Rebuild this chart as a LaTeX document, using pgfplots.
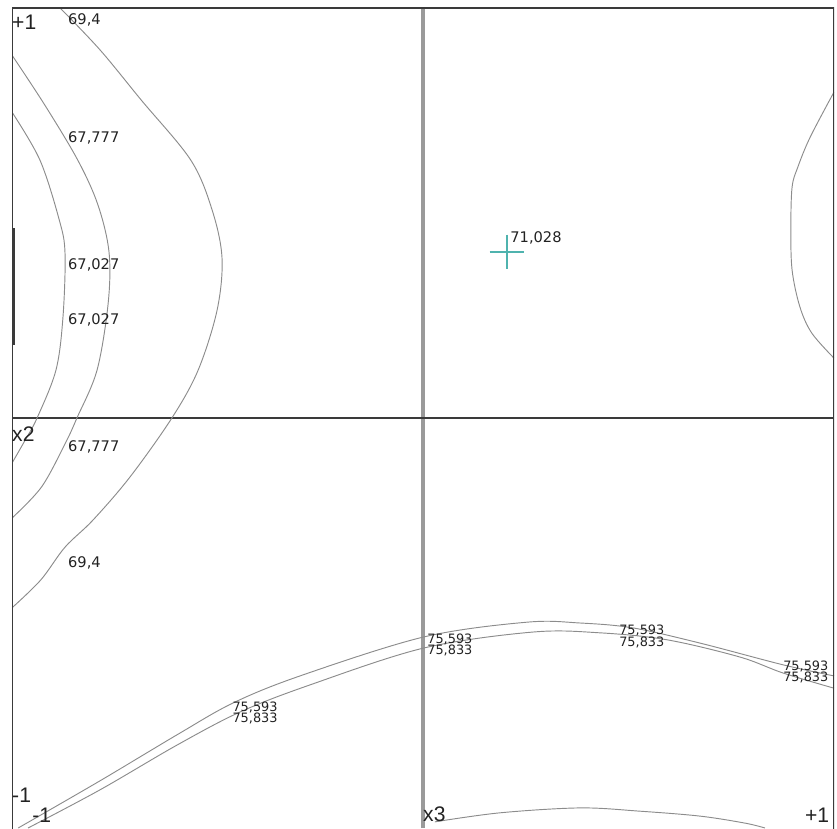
\documentclass[border=0pt]{standalone}
\usepackage{pgfplots}
\pgfplotsset{compat=1.18}
\usepackage{fontspec}
\setmainfont{DejaVu Sans}
\newfontfamily\tickfont{Liberation Sans}

\definecolor{isoline}{HTML}{8C8C8C}
\definecolor{framec}{HTML}{3A3A3A}
\definecolor{vaxis}{HTML}{9A9A9A}
\definecolor{optc}{HTML}{4FB3AE}
\definecolor{txt}{HTML}{222222}

\tikzset{
  lbl/.style={anchor=west, inner sep=0pt, text=txt, font=\fontsize{12.5}{13}\selectfont},
  lblb/.style={anchor=west, inner sep=0pt, text=txt, font=\fontsize{11}{11}\selectfont},
  tck/.style={anchor=west, inner sep=0pt, text=txt, font=\tickfont\fontsize{18}{18}\selectfont},
}
\pgfplotsset{iso/.style={isoline, line width=0.8pt, no marks, solid, smooth, tension=0.55}}

\begin{document}
\begin{tikzpicture}
\useasboundingbox (-0.36,0) rectangle (24.75,24.84);
\begin{axis}[
  at={(0,0)}, anchor=south west,
  scale only axis, width=24.66cm, height=24.6cm,
  xmin=-1, xmax=1, ymin=-1, ymax=1,
  hide axis, clip=true,
]
% centre lines
\draw[vaxis, line width=2.6pt] (axis cs:0,-1) -- (axis cs:0,1);
\draw[framec, line width=1.8pt] (axis cs:-1,0) -- (axis cs:1,0);

% level 69,4
\addplot[iso] coordinates {(-0.883,1.0) (-0.786,0.898) (-0.686,0.776) (-0.565,0.629) (-0.513,0.507)
  (-0.489,0.390) (-0.501,0.263) (-0.547,0.117) (-0.611,0) (-0.713,-0.144) (-0.803,-0.249)
  (-0.871,-0.315) (-0.930,-0.395) (-1.0,-0.463)};
% level 67,777
\addplot[iso] coordinates {(-1.0,0.885) (-0.920,0.763) (-0.840,0.629) (-0.791,0.520) (-0.764,0.405)
  (-0.766,0.280) (-0.793,0.117) (-0.842,0) (-0.870,-0.061) (-0.928,-0.168) (-1.0,-0.244)};
% level 67,027
\addplot[iso] coordinates {(-1.0,0.746) (-0.932,0.629) (-0.885,0.483) (-0.871,0.402) (-0.876,0.246)
  (-0.893,0.117) (-0.939,0) (-0.968,-0.054) (-1.0,-0.110)};
% small level along the left edge
\addplot[framec, line width=1.6pt, no marks, solid] coordinates {(-0.996,0.463) (-0.996,0.178)};
% right-hand level
\addplot[iso] coordinates {(1.0,0.795) (0.942,0.685) (0.912,0.612) (0.898,0.563) (0.895,0.463)
  (0.898,0.361) (0.917,0.271) (0.946,0.207) (1.0,0.146)};
% level 75,593
\addplot[iso] coordinates {(-0.985,-1.0) (-0.786,-0.885) (-0.599,-0.773) (-0.462,-0.695) (-0.299,-0.629)
  (0.002,-0.534) (0.253,-0.498) (0.382,-0.500) (0.511,-0.512) (0.674,-0.549) (0.876,-0.602) (1.0,-0.629)};
% level 75,833
\addplot[iso] coordinates {(-0.961,-1.0) (-0.786,-0.907) (-0.599,-0.798) (-0.445,-0.717) (-0.275,-0.651)
  (0.002,-0.561) (0.268,-0.522) (0.431,-0.524) (0.594,-0.541) (0.771,-0.583) (0.876,-0.622) (1.0,-0.659)};
% lowest level
\addplot[iso] coordinates {(0.029,-0.985) (0.187,-0.963) (0.382,-0.951) (0.528,-0.959) (0.674,-0.971)
  (0.783,-0.988) (0.832,-1.0)};

% optimum
\addplot[only marks, mark=+, mark size=0.52cm, mark options={optc, line width=1.6pt}] coordinates {(0.204,0.405)};

% frame (open at the bottom)
\draw[framec, line width=1.8pt] (axis cs:-1,-1.05) -- (axis cs:-1,1) -- (axis cs:1,1) -- (axis cs:1,-1.05);

% level labels
\node[lbl] at (axis cs:-0.864,0.971) {69,4};
\node[lbl] at (axis cs:-0.864,0.683) {67,777};
\node[lbl] at (axis cs:-0.864,0.373) {67,027};
\node[lbl] at (axis cs:-0.864,0.239) {67,027};
\node[lbl] at (axis cs:-0.864,-0.071) {67,777};
\node[lbl] at (axis cs:-0.864,-0.354) {69,4};
\node[lbl] at (axis cs:0.212,0.439) {71,028};

\node[lblb] at (axis cs:0.010,-0.540) {75,593};
\node[lblb] at (axis cs:0.010,-0.568) {75,833};
\node[lblb] at (axis cs:0.477,-0.519) {75,593};
\node[lblb] at (axis cs:0.477,-0.547) {75,833};
\node[lblb] at (axis cs:-0.464,-0.706) {75,593};
\node[lblb] at (axis cs:-0.464,-0.734) {75,833};
\node[lblb] at (axis cs:0.876,-0.605) {75,593};
\node[lblb] at (axis cs:0.876,-0.633) {75,833};

% axis labels
\node[tck] at (axis cs:-1.0,0.966) {+1};
\node[tck] at (axis cs:-1.0,-0.920) {-1};
\node[tck] at (axis cs:-1.0,-0.039) {x2};
\node[tck] at (axis cs:-0.951,-0.968) {-1};
\node[tck] at (axis cs:0.0,-0.966) {x3};
\node[tck] at (axis cs:0.929,-0.968) {+1};
\end{axis}
\end{tikzpicture}
\end{document}
